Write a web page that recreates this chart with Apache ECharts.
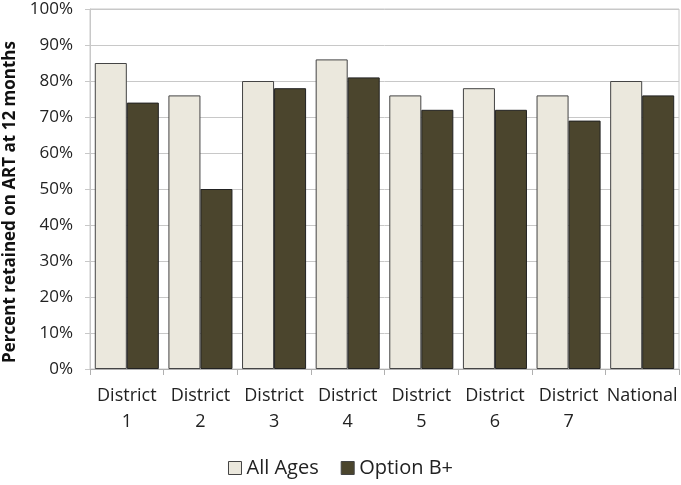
<!DOCTYPE html>
<html><head><meta charset="utf-8">
<script src="https://cdn.jsdelivr.net/npm/echarts@6/dist/echarts.min.js"></script>
<style>html,body{margin:0;padding:0;background:#fff}#c{width:681px;height:485px}</style>
</head><body><div id="c"></div>
<script>
const categories = ['District\n1','District\n2','District\n3','District\n4','District\n5','District\n6','District\n7','National'];
const allAges = [85, 76, 80, 86, 76, 78, 76, 80];
const optionB = [74, 50, 78, 81, 72, 72, 69, 76];
const seriesNames = ['All Ages', 'Option B+'];
const yTitle = 'Percent retained on ART at 12 months';

const chart = echarts.init(document.getElementById('c'), null, {renderer:'canvas'});
const font = '"Open Sans", sans-serif';
chart.setOption({
  animation: false,
  grid: {left: 90, right: 2, top: 9, bottom: 116, show: true, borderColor: '#c8c8c8', borderWidth: 1,
         containLabel: false, outerBoundsMode: 'none'},
  legend: {
    bottom: 2, left: 'center', itemWidth: 13, itemHeight: 13, itemGap: 22, icon: 'rect',
    textStyle: {fontFamily: font, fontSize: 20, color: '#222'},
    itemStyle: {borderColor: '#444', borderWidth: 1},
    data: seriesNames
  },
  xAxis: {
    type: 'category', data: categories,
    axisLine: {lineStyle: {color: '#b0b0b0'}},
    axisTick: {show: true, length: 6, lineStyle: {color: '#b0b0b0'}},
    axisLabel: {fontFamily: font, fontSize: 18, color: '#222', lineHeight: 26, margin: 14, interval: 0}
  },
  yAxis: {
    type: 'value', min: 0, max: 100, interval: 10,
    name: yTitle, nameLocation: 'middle', nameGap: 68,
    nameTextStyle: {fontFamily: font, fontSize: 17, fontWeight: 'bold', color: '#111', padding: [0, 26, 0, 0]},
    axisLine: {show: true, lineStyle: {color: '#c8c8c8'}},
    axisTick: {show: true, length: 5, lineStyle: {color: '#c8c8c8'}},
    splitLine: {lineStyle: {color: '#c8c8c8'}},
    axisLabel: {fontFamily: font, fontSize: 17, color: '#222', margin: 17, formatter: '{value}%'}
  },
  series: [
    {name: seriesNames[0], type: 'bar', data: allAges, barGap: '0%', barCategoryGap: '13%',
     itemStyle: {color: '#ebe8dd', borderColor: '#444', borderWidth: 1}},
    {name: seriesNames[1], type: 'bar', data: optionB, barGap: '0%', barCategoryGap: '13%',
     itemStyle: {color: '#4b452d', borderColor: '#222', borderWidth: 1}}
  ]
});
</script></body></html>
